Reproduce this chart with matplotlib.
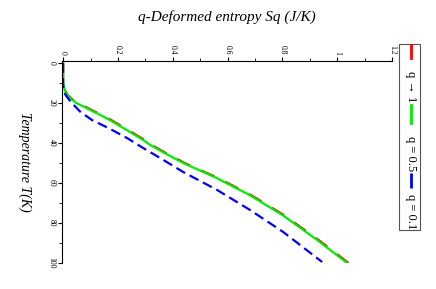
"""
q-deformed entropy versus temperature, drawn in the rotated layout of the original figure.
"""

import matplotlib
matplotlib.use("Agg")
import matplotlib.pyplot as plt
from matplotlib.patches import Rectangle
from matplotlib.lines import Line2D

# Values
temp = [0, 5, 8, 10, 12, 14, 16, 18, 20, 22, 24, 26, 28.5, 33.5, 38.5, 41, 45, 50, 57.5, 66, 76, 88.5, 100]
s_q05 = [0, 0, 0.0005, 0.001, 0.003, 0.007, 0.015, 0.029, 0.048, 0.078, 0.106, 0.136, 0.17, 0.232,
         0.292, 0.318, 0.37, 0.438, 0.56, 0.68, 0.80, 0.927, 1.036]
s_q1 = [0, 0, 0.0005, 0.001, 0.003, 0.008, 0.017, 0.032, 0.052, 0.083, 0.111, 0.141, 0.175, 0.237,
        0.297, 0.323, 0.375, 0.443, 0.565, 0.685, 0.805, 0.932, 1.041]
temp_q01 = [0, 5, 10, 13.5, 16, 19.3, 24.3, 28.5, 32.5, 37.5, 42.5, 47.5, 54.5, 63.5, 73.5, 84.5, 99.5]
s_q01 = [0, 0, 0, 0.002, 0.009, 0.027, 0.062, 0.105, 0.165, 0.233, 0.292, 0.354, 0.438, 0.562,
         0.682, 0.803, 0.945]

x_ticks = [0, 0.2, 0.4, 0.6, 0.8, 1.0, 1.2]
x_tick_labels = ["0", "0.2", "0.4", "0.6", "0.8", "1", "1.2"]
y_ticks = [0, 20, 40, 60, 80, 100]
legend_labels = ["q \u2192 1", "q = 0.5", "q = 0.1"]

plt.rcParams["font.family"] = ["Liberation Serif", "DejaVu Serif"]

fig = plt.figure(figsize=(4.36, 2.89), dpi=100)
ax = fig.add_axes([62 / 436, 1 - 263 / 289, 330 / 436, 202 / 289])

ax.plot(s_q1, temp, color="#ff0000", linestyle=(0, (6.5, 5.5)), linewidth=1.6)
ax.plot(s_q05, temp, color="#00ee00", linestyle="-", linewidth=1.6)
ax.plot(s_q01, temp_q01, color="#0000ff", linestyle=(0, (4.5, 2.3)), linewidth=1.6)

ax.set_xlim(-0.004, 1.2)
ax.set_ylim(100, -1)

ax.spines["right"].set_visible(False)
ax.spines["bottom"].set_visible(False)
ax.xaxis.tick_top()
ax.set_xticks(x_ticks)
ax.set_xticklabels(x_tick_labels, rotation=-90)
ax.set_xticks([0.1, 0.3, 0.5, 0.7, 0.9, 1.1], minor=True)
ax.set_yticks(y_ticks)
ax.set_yticklabels([str(v) for v in y_ticks], rotation=-90, va="center")
ax.set_yticks([10, 30, 50, 70, 90], minor=True)
ax.tick_params(which="major", direction="out", length=3, width=0.8, labelsize=5.5, pad=1.5)
ax.tick_params(which="minor", direction="out", length=2, width=0.6)

# titles, rotated like the original
fig.text(227 / 436, 1 - 17 / 289, "q-Deformed entropy Sq (J/K)", fontsize=11, style="italic",
         ha="center", va="center")
fig.text(25 / 436, 1 - 162 / 289, "Temperature T(K)", fontsize=10, style="italic",
         rotation=-90, ha="center", va="center")

# legend drawn by hand as a rotated single row
fig.patches.append(Rectangle((399 / 436, 1 - 230 / 289), 21 / 436, 186 / 289,
                             transform=fig.transFigure, facecolor="white",
                             edgecolor="#555555", linewidth=0.8))
lx = 410.5 / 436
fig.lines.append(Line2D([lx, lx], [1 - 45 / 289, 1 - 58 / 289], transform=fig.transFigure,
                        color="#ff0000", linewidth=2.0))
fig.lines.append(Line2D([lx, lx], [1 - 105 / 289, 1 - 123 / 289], transform=fig.transFigure,
                        color="#00ee00", linewidth=2.0))
fig.lines.append(Line2D([lx, lx], [1 - 173 / 289, 1 - 188 / 289], transform=fig.transFigure,
                        color="#0000ff", linewidth=2.0, linestyle=(0, (6, 1.5, 0.8, 1.5))))
for label, yc in zip(legend_labels, [87, 154, 212]):
    fig.text(lx, 1 - yc / 289, label, fontsize=9, rotation=-90, ha="center", va="center")

fig.savefig("out.png", dpi=100)
